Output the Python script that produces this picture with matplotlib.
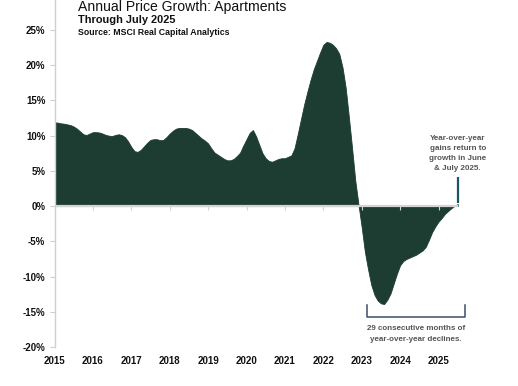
import numpy as np
import matplotlib
matplotlib.use("Agg")
import matplotlib.pyplot as plt
from matplotlib.font_manager import findfont, FontProperties

# ---------------- data (monthly, Jan 2015 .. Jul 2025) ----------------
start_year = 2015
growth = [
    # 2015
    11.9, 11.85, 11.75, 11.7, 11.6, 11.5, 11.3, 11.0, 10.6, 10.2, 10.1, 10.3,
    # 2016
    10.5, 10.5, 10.45, 10.3, 10.1, 10.0, 9.95, 10.1, 10.2, 10.1, 9.8, 9.2,
    # 2017
    8.4, 7.8, 7.7, 8.0, 8.5, 9.0, 9.4, 9.5, 9.5, 9.35, 9.4, 9.8,
    # 2018
    10.3, 10.7, 11.0, 11.1, 11.1, 11.1, 11.0, 10.8, 10.4, 10.0, 9.6, 9.3,
    # 2019
    8.9, 8.2, 7.6, 7.3, 7.0, 6.7, 6.5, 6.5, 6.7, 7.1, 7.6, 8.6,
    # 2020
    9.5, 10.4, 10.8, 9.9, 8.7, 7.5, 6.8, 6.4, 6.3, 6.5, 6.7, 6.8,
    # 2021
    6.8, 7.0, 7.2, 8.2, 10.2, 12.3, 14.4, 16.2, 17.9, 19.4, 20.6, 21.8,
    # 2022
    22.9, 23.3, 23.2, 22.9, 22.4, 21.6, 19.7, 16.8, 12.6, 8.2, 3.6, 0.2,
    # 2023
    -3.0, -6.5, -9.0, -11.2, -12.6, -13.4, -13.8, -13.9, -13.3, -12.4, -11.0, -9.6,
    # 2024
    -8.4, -7.8, -7.5, -7.3, -7.1, -6.9, -6.6, -6.3, -5.8, -4.8, -3.7, -2.9,
    # 2025
    -2.2, -1.7, -1.1, -0.7, -0.3, 0.05, 0.3,
]
year_ticks = list(range(2015, 2026))
y_ticks = [25, 20, 15, 10, 5, 0, -5, -10, -15, -20]

title = "Annual Price Growth: Apartments"
subtitle = "Through July 2025"
source = "Source: MSCI Real Capital Analytics"
note_right = "Year-over-year\ngains return to\ngrowth in June\n& July 2025."
note_bottom = "29 consecutive months of\nyear-over-year declines."

# ---------------- fonts ----------------
def pick(fams):
    for f in fams:
        try:
            p = findfont(FontProperties(family=f), fallback_to_default=False)
            if p:
                return f
        except Exception:
            pass
    return "DejaVu Sans"

main_font = pick(["Liberation Sans", "Arial", "DejaVu Sans"])
narrow_font = pick(["Liberation Sans Narrow", "Liberation Sans", "DejaVu Sans"])
plt.rcParams["font.family"] = [main_font, "DejaVu Sans"]

# ---------------- figure ----------------
W, H = 518, 386
fig = plt.figure(figsize=(W / 100, H / 100), dpi=100)
fig.patch.set_facecolor("white")

ymin, ymax = -20, 29.26
x0_px, px_per_year = 54.5, 38.4
xmin = start_year
xmax = start_year + (W - x0_px) / px_per_year
ax = fig.add_axes([x0_px / W, 39 / H, 1 - x0_px / W, 1 - 39 / H])
ax.set_xlim(xmin, xmax)
ax.set_ylim(ymin, ymax)

x = start_year + np.arange(len(growth)) / 12.0
y = np.array(growth)

fill_color = "#1d3c32"
ax.fill_between(x, y, 0, color=fill_color, lw=0.6, edgecolor=fill_color, zorder=2)

# zero line
ax.hlines(0, x[0], x[-1], color="#d4d4d4", lw=1.6, zorder=3)

# spines
for s in ["top", "right", "bottom"]:
    ax.spines[s].set_visible(False)
ax.spines["left"].set_color("#cfcfcf")
ax.spines["left"].set_linewidth(1.0)

# y ticks
ax.set_yticks(y_ticks)
ax.set_yticklabels([f"{v}%" for v in y_ticks])
ax.tick_params(axis="y", length=3.6, width=0.8, color="#cfcfcf", pad=3,
               labelsize=7, labelcolor="#111111")

# x labels at bottom, no tick marks
ax.set_xticks(year_ticks)
ax.set_xticklabels([str(v) for v in year_ticks])
ax.tick_params(axis="x", length=0, pad=6.5, labelsize=7, labelcolor="#111111")
for lab in ax.get_xticklabels() + ax.get_yticklabels():
    lab.set_fontweight("bold")

# tick marks at the zero line
loc0 = (0 - ymin) / (ymax - ymin)
sec = ax.secondary_xaxis(loc0)
sec.set_xticks(year_ticks[1:])
sec.set_xticklabels([])
sec.spines["bottom"].set_visible(False)
sec.tick_params(axis="x", length=3, width=0.8, color="#d4d4d4", direction="out")
sec.set_zorder(4)

# ---------------- titles ----------------
fig.text(78 / W, 1 - 10.5 / H, title, fontsize=10.1, color="#111111",
         ha="left", va="baseline")
fig.text(78 / W, 1 - 23.3 / H, subtitle, fontsize=7.9, fontweight="bold",
         color="#111111", ha="left", va="baseline")
fig.text(78 / W, 1 - 35 / H, source, fontsize=6.3, fontweight="bold",
         color="#111111", ha="left", va="baseline")

# ---------------- annotations ----------------
ann_color = "#1b5566"
ann_x = x[-1]
ax.plot([ann_x, ann_x], [4.1, 0.5], color=ann_color, lw=1.6, zorder=5,
        solid_capstyle="butt")
ax.text(ann_x, 4.9, note_right, ha="center", va="bottom", fontsize=5.8,
        fontweight="bold", color="#555555", family=[narrow_font, "DejaVu Sans"],
        linespacing=1.6)

br_color = "#3a5068"
bx0, bx1 = 2023.15, 2025.68
by_top, by_bot = -14.1, -15.7
ax.plot([bx0, bx0, bx1, bx1], [by_top, by_bot, by_bot, by_top],
        color=br_color, lw=1.1, zorder=5)
ax.text((bx0 + bx1) / 2, -16.85, note_bottom, ha="center", va="top",
        fontsize=5.8, fontweight="bold", color="#555555",
        family=[narrow_font, "DejaVu Sans"], linespacing=1.75)

fig.savefig("out.png", dpi=100, facecolor="white")
